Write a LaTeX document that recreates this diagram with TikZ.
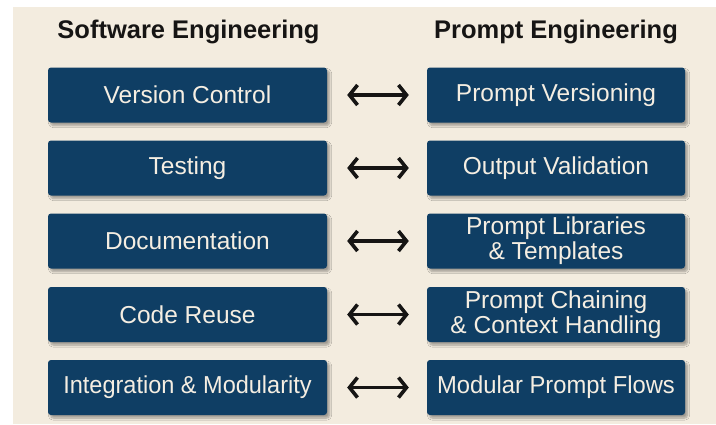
\documentclass[tikz,border=0pt]{standalone}
\usepackage{fontspec}
\setmainfont{Liberation Sans}
\usetikzlibrary{arrows.meta,shadows.blur}
\definecolor{paper}{HTML}{F3ECDF}
\definecolor{navy}{HTML}{0F3E64}
\definecolor{cream}{HTML}{F5EEE2}
\definecolor{ink}{HTML}{161514}
\tikzset{
  card/.style={fill=navy, rounded corners=3pt, minimum height=55pt,
    text=cream, align=center, inner sep=0pt,
    font=\fontsize{24.5}{25}\selectfont,
    blur shadow={shadow xshift=2.5pt, shadow yshift=-3pt,
      shadow blur steps=8, shadow opacity=35}},
  leftcard/.style={card, minimum width=279pt},
  rightcard/.style={card, minimum width=258pt},
  heading/.style={font=\fontsize{25.5}{27}\bfseries\selectfont, text=ink},
  link/.style={ink, line width=3.6pt,
    {Straight Barb[length=8pt,width=20pt]}-{Straight Barb[length=8pt,width=20pt]},
    shorten <=20pt, shorten >=18pt}
}
\begin{document}
\begin{tikzpicture}[x=1pt,y=-1pt]
  \useasboundingbox (0,0) rectangle (716,424);
  \fill[white] (0,0) rectangle (716,424);
  \fill[paper] (13,7) rectangle (716,424);

  % column headings
  \node[heading] (hsw) at (188.5,32) {Software Engineering};
  \node[heading] (hpe) at (556,32) {Prompt Engineering};

  % software engineering practices
  \node[leftcard] (s1) at (187.5,95) {Version Control};
  \node[leftcard] (s2) at (187.5,168) {Testing};
  \node[leftcard] (s3) at (187.5,241) {Documentation};
  \node[leftcard] (s4) at (187.5,314.5) {Code Reuse};
  \node[leftcard] (s5) at (187.5,387.5) {\scalebox{0.96}[1]{Integration \& Modularity}};

  % prompt engineering counterparts
  \node[rightcard] (p1) at (556,95) {Prompt Versioning};
  \node[rightcard] (p2) at (556,168) {Output Validation};
  \node[rightcard] (p3) at (556,241) {Prompt Libraries\\\& Templates};
  \node[rightcard] (p4) at (556,314.5) {Prompt Chaining\\\& Context Handling};
  \node[rightcard] (p5) at (556,387.5) {\scalebox{0.97}[1]{Modular Prompt Flows}};

  % correspondences
  \foreach \i in {1,...,5}
    \draw[link] (s\i.east) -- (p\i.west);
\end{tikzpicture}
\end{document}
